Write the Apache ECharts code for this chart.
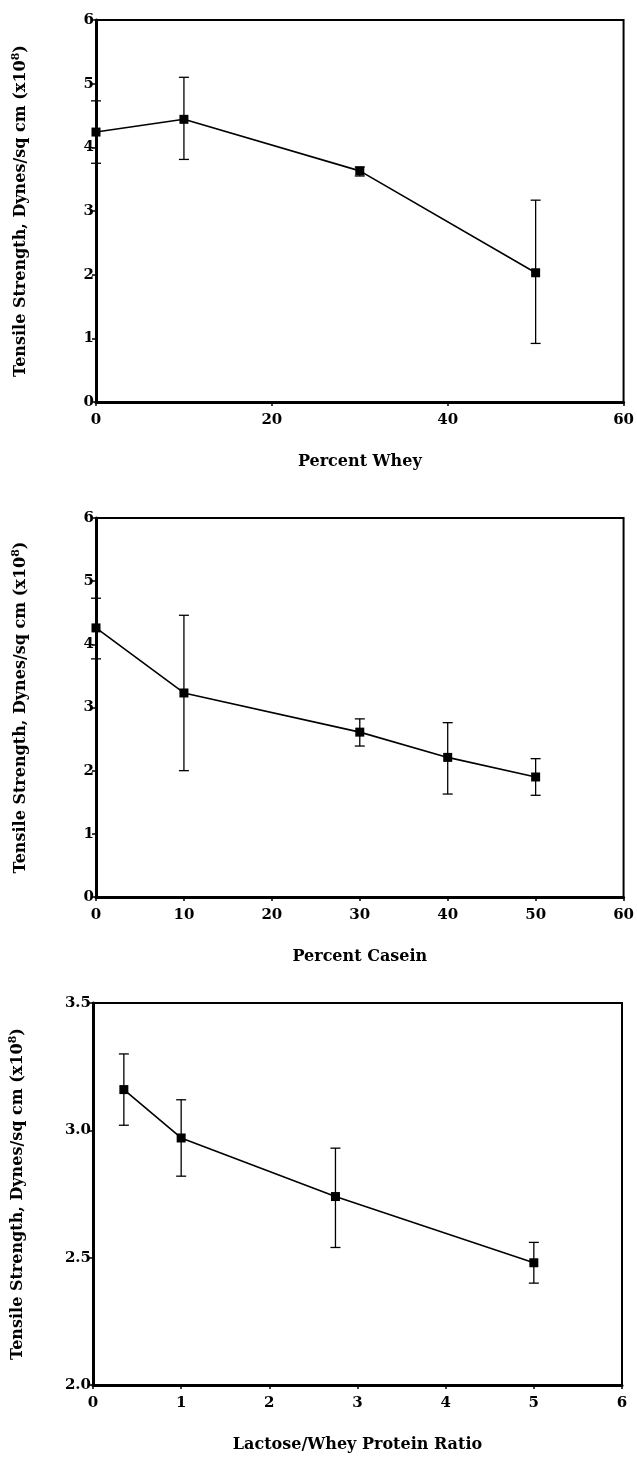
<!DOCTYPE html>
<html>
<head>
<meta charset="utf-8">
<script src="https://cdn.jsdelivr.net/npm/echarts@6/dist/echarts.min.js"></script>
<style>
  html, body { margin: 0; padding: 0; background: #fff; }
  #main { width: 637px; height: 1457px; }
</style>
</head>
<body>
<div id="main"></div>
<script>
// panel 1: percent whey
var wheyX = [0, 10, 30, 50]
var wheyY = [4.24, 4.44, 3.63, 2.03]
var wheyHi = [4.73, 5.10, 3.69, 3.17]
var wheyLo = [3.75, 3.81, 3.55, 0.92]

// panel 2: percent casein
var caseinX = [0, 10, 30, 40, 50]
var caseinY = [4.26, 3.23, 2.61, 2.21, 1.90]
var caseinHi = [4.73, 4.46, 2.82, 2.76, 2.19]
var caseinLo = [3.77, 2.00, 2.39, 1.63, 1.61]

// panel 3: lactose/whey protein ratio
var ratioX = [0.35, 1, 2.75, 5]
var ratioY = [3.16, 2.97, 2.74, 2.48]
var ratioHi = [3.30, 3.12, 2.93, 2.56]
var ratioLo = [3.02, 2.82, 2.54, 2.40]

var xNames = ['Percent Whey', 'Percent Casein', 'Lactose/Whey Protein Ratio']
var yName = 'Tensile Strength, Dynes/sq cm (x10{sup|8})'

var font = 'DejaVu Serif'
var chart = echarts.init(document.getElementById('main'))

function zip(xs, ys) {
    return xs.map(function (x, i) { return [x, ys[i]] })
}
function zipErr(xs, lo, hi) {
    return xs.map(function (x, i) { return [x, lo[i], hi[i]] })
}

function errorBars(idx, data) {
    return {
        type: 'custom',
        xAxisIndex: idx,
        yAxisIndex: idx,
        data: data,
        z: 3,
        renderItem: function (params, api) {
            var top = api.coord([api.value(0), api.value(2)])
            var bot = api.coord([api.value(0), api.value(1)])
            var w = 5
            var style = { stroke: '#000', lineWidth: 1.3 }
            return {
                type: 'group',
                children: [
                    { type: 'line', shape: { x1: top[0], y1: top[1], x2: bot[0], y2: bot[1] }, style: style },
                    { type: 'line', shape: { x1: top[0] - w, y1: top[1], x2: top[0] + w, y2: top[1] }, style: style },
                    { type: 'line', shape: { x1: bot[0] - w, y1: bot[1], x2: bot[0] + w, y2: bot[1] }, style: style }
                ]
            }
        }
    }
}

function lineSeries(idx, data) {
    return {
        type: 'line',
        xAxisIndex: idx,
        yAxisIndex: idx,
        data: data,
        symbol: 'rect',
        symbolSize: 9,
        z: 4,
        lineStyle: { color: '#000', width: 1.6 },
        itemStyle: { color: '#000' }
    }
}

var axisText = { color: '#000', fontFamily: font, fontWeight: 'bold', fontSize: 15 }

function xAxis(idx, max, interval) {
    return {
        type: 'value', gridIndex: idx, min: 0, max: max, interval: interval,
        name: xNames[idx], nameLocation: 'middle', nameGap: 52,
        nameTextStyle: { color: '#000', fontFamily: font, fontWeight: 'bold', fontSize: 16 },
        axisLine: { lineStyle: { color: '#000', width: 3 } },
        axisTick: { length: 4, lineStyle: { color: '#000', width: 1.5 } },
        axisLabel: Object.assign({ margin: 11 }, axisText),
        splitLine: { show: false }
    }
}

function yAxis(idx, min, max, interval, digits) {
    return {
        type: 'value', gridIndex: idx, min: min, max: max, interval: interval,
        name: yName, nameLocation: 'middle', nameGap: 66, nameRotate: 90,
        nameTextStyle: {
            color: '#000', fontFamily: font, fontWeight: 'bold', fontSize: 16,
            rich: { sup: { fontFamily: font, fontWeight: 'bold', fontSize: 11, verticalAlign: 'top', padding: [0, 0, 8, 0] } }
        },
        axisLine: { lineStyle: { color: '#000', width: 3 } },
        axisTick: { length: 4, lineStyle: { color: '#000', width: 1.5 } },
        axisLabel: Object.assign({ margin: 2, formatter: function (v) { return v.toFixed(digits) } }, axisText),
        splitLine: { show: false }
    }
}

var gridStyle = { show: true, borderColor: '#000', borderWidth: 2 }

chart.setOption({
    backgroundColor: '#fff',
    animation: false,
    grid: [
        Object.assign({ left: 96, top: 20, width: 530, height: 382 }, gridStyle),
        Object.assign({ left: 96, top: 518, width: 529, height: 379 }, gridStyle),
        Object.assign({ left: 92, top: 1003, width: 530, height: 382 }, gridStyle)
    ],
    xAxis: [
        xAxis(0, 60, 20),
        xAxis(1, 60, 10),
        xAxis(2, 6, 1)
    ],
    yAxis: [
        yAxis(0, 0, 6, 1, 0),
        yAxis(1, 0, 6, 1, 0),
        yAxis(2, 2.0, 3.5, 0.5, 1)
    ],
    series: [
        errorBars(0, zipErr(wheyX, wheyLo, wheyHi)),
        lineSeries(0, zip(wheyX, wheyY)),
        errorBars(1, zipErr(caseinX, caseinLo, caseinHi)),
        lineSeries(1, zip(caseinX, caseinY)),
        errorBars(2, zipErr(ratioX, ratioLo, ratioHi)),
        lineSeries(2, zip(ratioX, ratioY))
    ]
})
</script>
</body>
</html>
